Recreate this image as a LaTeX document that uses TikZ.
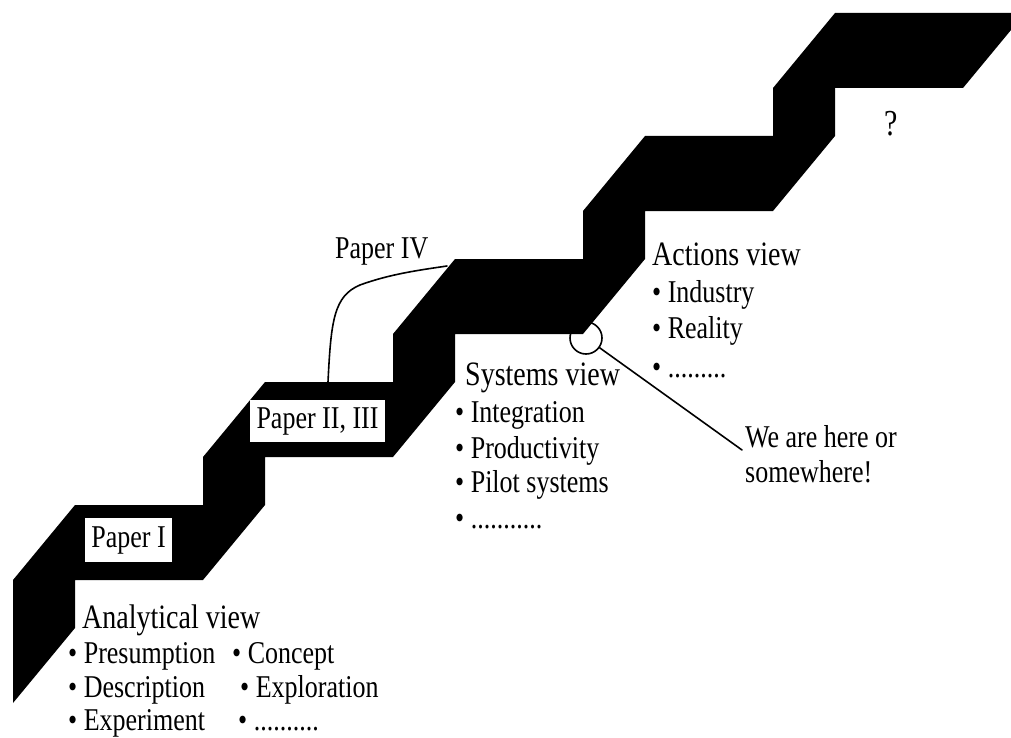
\documentclass[tikz,border=0pt]{standalone}
\usepackage{fontspec}
\usepackage{graphicx}
\setmainfont{Liberation Serif}
\newcommand\titlefont{\fontsize{28}{34}\selectfont}
\newcommand\itemfont{\fontsize{26}{32}\selectfont}
\newcommand\tallbox[1]{\scalebox{1}[1.22]{#1}}
\tikzset{
  stair/.style={fill=black, draw=none},
  heading/.style={anchor=base west, inner sep=0pt, font=\titlefont},
  entry/.style={anchor=base west, inner sep=0pt, font=\itemfont},
  paperbox/.style={fill=white, draw=none, inner sep=0pt, font=\itemfont},
  thinline/.style={line width=1.6pt, line cap=round, line join=round},
}
\begin{document}
\begin{tikzpicture}[x=1pt, y=-1pt]
\useasboundingbox (0,0) rectangle (1011,738);

% the staircase band
\path[stair] (13,703) -- (13,580) -- (75,505) -- (203,505) -- (203,457)
  -- (265,382) -- (393,382) -- (393,334) -- (455,259) -- (583,259)
  -- (583,211) -- (645,136) -- (773,136) -- (773,88) -- (835,13)
  -- (1011,13) -- (1011,30) -- (963,88) -- (835,88) -- (835,136)
  -- (773,211) -- (645,211) -- (645,259) -- (583,334) -- (455,334)
  -- (455,382) -- (393,457) -- (265,457) -- (265,505) -- (203,580)
  -- (75,580) -- (75,628) -- cycle;

% paper labels on the treads
\node[paperbox, minimum width=87, minimum height=44] (p1) at (128.5,540) {\tallbox{Paper I}};
\node[paperbox, minimum width=135, minimum height=42] (p23) at (317.5,421) {\tallbox{Paper II, III}};

% Paper IV and its link to the third step
\node[entry] (p4) at (335,258) {\tallbox{Paper IV}};
\coordinate (p4foot) at (328,382);
\coordinate (p4head) at (447,266);
\draw[thinline] (p4foot) .. controls (331,320) and (334,296) .. (360,285)
  .. controls (390,274) and (420,270) .. (p4head);

% analytical view
\node[heading] (av) at (82,628) {\tallbox{Analytical view}};
\node[entry] (av1) at (68,663) {\tallbox{• Presumption}};
\node[entry] (av2) at (68,697) {\tallbox{• Description}};
\node[entry] (av3) at (68,730) {\tallbox{• Experiment}};
\node[entry] (av4) at (232,663) {\tallbox{• Concept}};
\node[entry] (av5) at (240,697) {\tallbox{• Exploration}};
\node[entry] (av6) at (238,730) {\tallbox{• ..........}};

% systems view
\node[heading] (sv) at (465,385) {\tallbox{Systems view}};
\node[entry] (sv1) at (455,422) {\tallbox{• Integration}};
\node[entry] (sv2) at (455,458) {\tallbox{• Productivity}};
\node[entry] (sv3) at (455,492) {\tallbox{• Pilot systems}};
\node[entry] (sv4) at (455,528) {\tallbox{• ...........}};

% actions view
\node[heading] (acv) at (652,265) {\tallbox{Actions view}};
\node[entry] (acv1) at (652,302) {\tallbox{• Industry}};
\node[entry] (acv2) at (652,338) {\tallbox{• Reality}};
\node[entry] (acv3) at (652,377) {\tallbox{• .........}};

% unknown next step
\node[entry, font=\fontsize{30}{34}\selectfont] (q) at (884,136) {\tallbox{?}};

% current position marker
\node[circle, draw, line width=1.6pt, minimum size=32, inner sep=0pt] (here) at (586,338) {};
\node[entry] (we1) at (745,447) {\tallbox{We are here or}};
\node[entry] (we2) at (745,482) {\tallbox{somewhere!}};
\coordinate (wetip) at (742,450);
\draw[thinline] (here) -- (wetip);
\end{tikzpicture}
\end{document}
